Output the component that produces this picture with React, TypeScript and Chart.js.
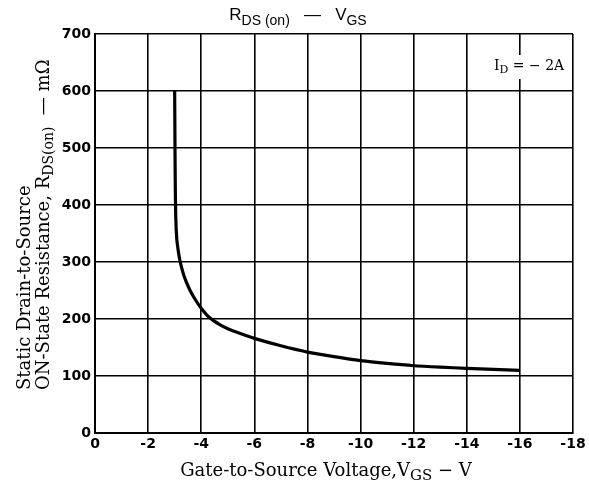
import React, { useEffect, useRef } from "react";
import { Chart, registerables } from "chart.js";

Chart.register(...registerables);

const vgs = [-3.0, -3.01, -3.02, -3.04, -3.08, -3.14, -3.2, -3.35, -3.55, -3.75, -4.0, -4.3, -4.7, -5.0, -5.5, -6, -7, -8, -9, -10, -11, -12, -13, -14, -15, -16];
const rds = [600, 520, 450, 380, 340, 318, 302, 276, 253, 236, 219, 203, 190, 183, 174, 166, 153, 142, 134, 127, 122, 118, 115.5, 113.5, 111.5, 110];

const xMin = -18;
const xMax = 0;
const xStep = 2;
const yMin = 0;
const yMax = 700;
const yStep = 100;

type Run = { t: string; sub?: boolean };

const titleRuns: Run[] = [{ t: "R" }, { t: "DS (on)", sub: true }, { t: "   —   V" }, { t: "GS", sub: true }];
const xTitleRuns: Run[] = [{ t: "Gate-to-Source Voltage," }, { t: "V" }, { t: "GS", sub: true }, { t: " − V" }];
const yTitle1Runs: Run[] = [{ t: "Static Drain-to-Source" }];
const yTitle2Runs: Run[] = [{ t: "ON-State Resistance, R" }, { t: "DS(on)", sub: true }, { t: "  — mΩ" }];
const noteRuns: Run[] = [{ t: "I" }, { t: "D", sub: true }, { t: " = − 2A" }];

function measureRuns(ctx: CanvasRenderingContext2D, runs: Run[], family: string, size: number, subSize: number, weight = "normal") {
  let w = 0;
  for (const r of runs) {
    ctx.font = `${weight} ${r.sub ? subSize : size}px ${family}`;
    w += ctx.measureText(r.t).width;
  }
  return w;
}

function drawRuns(ctx: CanvasRenderingContext2D, runs: Run[], x: number, y: number, family: string, size: number, subSize: number, subShift: number, weight = "normal") {
  let cx = x;
  ctx.textAlign = "left";
  ctx.textBaseline = "alphabetic";
  for (const r of runs) {
    ctx.font = `${weight} ${r.sub ? subSize : size}px ${family}`;
    ctx.fillText(r.t, cx, r.sub ? y + subShift : y);
    cx += ctx.measureText(r.t).width;
  }
}

const textPlugin = {
  id: "textPlugin",
  afterDraw(chart: any) {
    const ctx: CanvasRenderingContext2D = chart.ctx;
    ctx.save();
    ctx.fillStyle = "#000";
    // Title
    const sans = "'Liberation Sans', Arial, sans-serif";
    const tw = measureRuns(ctx, titleRuns, sans, 17, 14);
    drawRuns(ctx, titleRuns, 298 - tw / 2, 20, sans, 17, 14, 5);
    // X title
    const serif = "'DejaVu Serif', serif";
    const xw = measureRuns(ctx, xTitleRuns, serif, 18, 15);
    drawRuns(ctx, xTitleRuns, 326 - xw / 2, 476, serif, 18, 15, 4);
    // Y titles
    ctx.save();
    ctx.translate(30, 390);
    ctx.rotate(-Math.PI / 2);
    drawRuns(ctx, yTitle1Runs, 0, 0, serif, 18, 14, 4);
    ctx.restore();
    ctx.save();
    ctx.translate(49, 390);
    ctx.rotate(-Math.PI / 2);
    drawRuns(ctx, yTitle2Runs, 0, 0, serif, 18, 14, 4);
    ctx.restore();
    // Note
    const nw = measureRuns(ctx, noteRuns, serif, 14, 11);
    const nx = 494;
    const ny = 70;
    ctx.fillStyle = "#fff";
    ctx.fillRect(nx - 3, ny - 15, nw + 6, 24);
    ctx.fillStyle = "#000";
    drawRuns(ctx, noteRuns, nx, ny, serif, 14, 11, 3);
    ctx.restore();
  },
};

export default function App() {
  const ref = useRef<HTMLCanvasElement | null>(null);
  useEffect(() => {
    if (!ref.current) return;
    const tickFont = { family: "'DejaVu Sans', sans-serif", size: 14, weight: "bold" };
    const chart = new Chart(ref.current, {
      type: "line",
      data: {
        datasets: [
          {
            data: vgs.map((x, i) => ({ x, y: rds[i] })),
            borderColor: "#000",
            borderWidth: 3.2,
            pointRadius: 0,
            tension: 0.25,
            fill: false,
          },
        ],
      },
      options: {
        animation: false,
        responsive: false,
        devicePixelRatio: 1,
        layout: { padding: { left: 0, top: 34, right: 16, bottom: 0 } },
        plugins: { legend: { display: false }, tooltip: { enabled: false }, title: { display: false } },
        scales: {
          x: {
            type: "linear",
            min: xMin,
            max: xMax,
            reverse: true,
            afterFit: (s: any) => {
              s.height = 59;
            },
            ticks: {
              stepSize: xStep,
              color: "#000",
              padding: 3,
              font: tickFont,
              callback: (v: any) => String(v),
            },
            grid: { color: "#000", lineWidth: 1.6, drawTicks: false },
            border: { color: "#000", width: 2 },
          },
          y: {
            type: "linear",
            min: yMin,
            max: yMax,
            afterFit: (s: any) => {
              s.width = 95;
            },
            ticks: {
              stepSize: yStep,
              color: "#000",
              padding: 4,
              font: tickFont,
            },
            grid: { color: "#000", lineWidth: 1.6, drawTicks: false },
            border: { color: "#000", width: 2 },
          },
        },
      },
      plugins: [textPlugin],
    } as any);
    return () => chart.destroy();
  }, []);
  return (
    <div style={{ position: "fixed", left: 0, top: 0, width: 589, height: 492, background: "#fff" }}>
      <canvas ref={ref} width={589} height={492} style={{ display: "block" }} />
    </div>
  );
}
